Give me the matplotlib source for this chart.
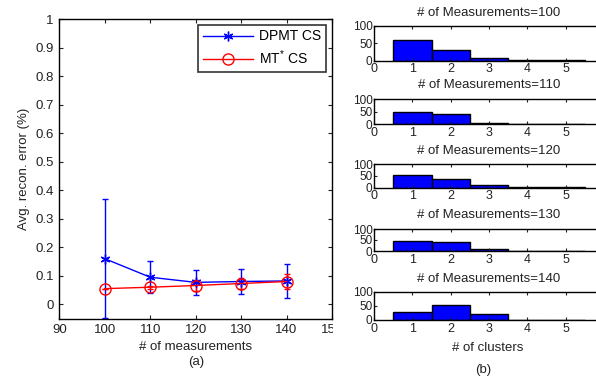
import matplotlib
matplotlib.use("Agg")
import matplotlib.pyplot as plt
from matplotlib.transforms import Bbox
from matplotlib.lines import Line2D

plt.rcParams['font.family'] = ['Liberation Sans', 'DejaVu Sans']
plt.rcParams['mathtext.fontset'] = 'custom'
plt.rcParams['mathtext.rm'] = 'Liberation Sans'
plt.rcParams['mathtext.it'] = 'Liberation Sans:italic'

# ---- data ----
measurements = [100, 110, 120, 130, 140]
dpmt_mean = [0.160, 0.095, 0.077, 0.080, 0.082]
dpmt_err = [0.208, 0.056, 0.044, 0.045, 0.060]
mt_mean = [0.055, 0.060, 0.066, 0.073, 0.080]
mt_err = [0.000, 0.005, 0.018, 0.018, 0.025]

clusters = [1, 2, 3, 4, 5]
hist_titles = ["# of Measurements=100", "# of Measurements=110", "# of Measurements=120",
               "# of Measurements=130", "# of Measurements=140"]
hist_counts = [
    [60, 31, 7, 1, 1],
    [50, 42, 4, 3, 0],
    [52, 36, 10, 1, 1],
    [47, 43, 10, 1, 0],
    [27, 52, 21, 1, 0],
]

W, H = 596, 381
fig = plt.figure(figsize=(W / 100, H / 100), dpi=100)

def fx(px):
    return px / W

def fy(py):
    return 1 - py / H

TXT = '#222222'
ASTER = (6, 2, 0)

# ---- left panel ----
L, R, T, B = 59.3, 332.0, 19.0, 318.6
ax = fig.add_axes([fx(L), fy(B), fx(R - L), (B - T) / H])
ax.errorbar(measurements, dpmt_mean, yerr=dpmt_err, color='blue', marker=ASTER,
            markersize=7, markeredgewidth=1, lw=1, capsize=2, elinewidth=1)
ax.errorbar(measurements, mt_mean, yerr=mt_err, color='red', marker='o',
            markersize=8, markerfacecolor='none', lw=1, capsize=2, elinewidth=1)
ax.set_xlim(90, 150)
ax.set_ylim(-0.05, 1.0)
ax.set_xticks([90, 100, 110, 120, 130, 140, 150])
ax.set_yticks([i / 10 for i in range(11)])
ax.set_yticklabels(['0'] + ['%.1f' % (i / 10) for i in range(1, 10)] + ['1'])
ax.tick_params(direction='in', top=True, right=True, labelsize=9.5, length=3,
               colors=TXT, pad=4)
for s in ax.spines.values():
    s.set_linewidth(1.0)
ax.set_ylabel('Avg. recon. error (%)', fontsize=9.5, color=TXT, labelpad=4)
handles = [
    Line2D([], [], color='blue', marker=ASTER, markersize=7, markeredgewidth=1, lw=1),
    Line2D([], [], color='red', marker='o', markersize=8, markerfacecolor='none', lw=1),
]
leg = ax.legend(handles, ['DPMT CS', r'MT$^{\mathrm{*}}$ CS'], loc='upper right',
                fontsize=10, handlelength=3.6, frameon=True, fancybox=False,
                edgecolor='black', borderpad=0.35, labelspacing=0.35,
                handletextpad=0.5, borderaxespad=0.4)
leg.get_frame().set_linewidth(1.2)
fig.canvas.draw()
clip = Bbox.from_extents(0, 0, 333, H)
for lab in ax.get_xticklabels():
    lab.set_clip_box(clip)
    lab.set_clip_on(True)
fig.text(fx(195.7), fy(347), '# of measurements', ha='center', va='center',
         fontsize=9.5, color=TXT)
fig.text(fx(195.7), fy(362), '(a)', ha='center', va='center', fontsize=9.5,
         color=TXT)

# ---- right panels ----
HL = 374.0
unit = 38.34
panels = [(26.0, 60.7), (99.0, 124.3), (164.0, 187.7), (229.0, 251.0), (292.0, 320.0)]
for (top, base), title, counts in zip(panels, hist_titles, hist_counts):
    a = fig.add_axes([fx(HL), fy(base), fx(6 * unit), (base - top) / H])
    a.bar(clusters, counts, width=1.0, color='blue', edgecolor='black', linewidth=1)
    a.set_xlim(0, 6)
    a.set_ylim(0, 100)
    a.set_xticks([0, 1, 2, 3, 4, 5])
    a.set_yticks([0, 50, 100])
    a.tick_params(direction='in', top=True, right=True, labelsize=9, length=2.5,
                  colors=TXT, pad=2)
    a.tick_params(axis='y', pad=1, labelsize=8.5)
    for s in a.spines.values():
        s.set_linewidth(1.0)
    a.text(0.5, fy(top - 13.5), title, transform=fig.transFigure, ha='center',
           va='center', fontsize=9.5, color=TXT)
    # keep the title centred over the full axes (which extends past the figure)
    a.texts[-1].set_x(fx(HL + 3 * unit))

fig.text(fx(488), fy(348), '# of clusters', ha='center', va='center', fontsize=9.5,
         color=TXT)
fig.text(fx(483), fy(370), '(b)', ha='center', va='center', fontsize=9.5,
         color=TXT)

fig.savefig('out.png', dpi=100)
